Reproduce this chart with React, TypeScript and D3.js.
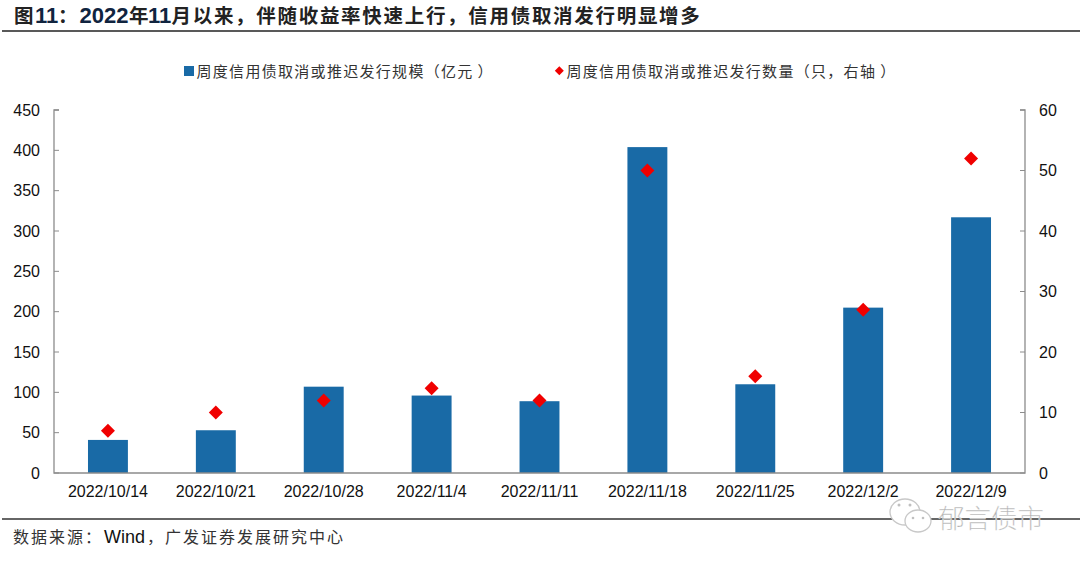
import React from "react";
import * as d3 from "d3";

const categories = ["2022/10/14","2022/10/21","2022/10/28","2022/11/4","2022/11/11","2022/11/18","2022/11/25","2022/12/2","2022/12/9"];
const scaleValues = [41,53,107,96,89,404,110,205,317];
const countValues = [7,10,12,14,12,50,16,27,52];
const leftTicks = [0,50,100,150,200,250,300,350,400,450];
const rightTicks = [0,10,20,30,40,50,60];
const titleParts: [string, boolean, number][] = [["图",false,14],["11",true,35],["：",false,58],["2022",true,79.5],["年",false,129],["11",true,148],["月以来，伴随收益率快速上行，信用债取消发行明显增多",false,171.5]];
const legendBar = "周度信用债取消或推迟发行规模（亿元";
const legendDot = "周度信用债取消或推迟发行数量（只，右轴";
const legendClose = "）";
const sourceParts: [string, boolean, number][] = [["数据来源：",false,13],["Wind",true,104],["，广发证券发展研究中心",false,147]];
const watermark = "郁言债市";

const cjk = "'Noto Sans CJK SC','Liberation Sans',sans-serif";
const latin = "'Liberation Sans',Arial,sans-serif";
const blue = "#196AA6";
const axisCol = "#8c8c8c";

export default function App() {
  const x = d3.scaleBand<string>().domain(categories).range([54,1025]).paddingInner(0.63).paddingOuter(0.315);
  const yL = d3.scaleLinear().domain([0,450]).range([473,110]);
  const yR = d3.scaleLinear().domain([0,60]).range([473,110]);
  const cx = (c: string) => (x(c) as number) + x.bandwidth()/2;
  const diamond = d3.symbol().type(d3.symbolDiamond2).size(125)() as string;
  const legendDiamond = d3.symbol().type(d3.symbolDiamond2).size(52)() as string;
  return (
    <svg width={1080} height={566} style={{position:"absolute",left:0,top:0,background:"#fff"}}>
      {titleParts.map(([t,b,px],i)=>(
        <text key={i} x={px} y={b?23:22.5} fontSize={b?22:19.5} fontWeight={700} letterSpacing={b?0:1.7} fill={b?"#10243f":"#222"} fontFamily={b?latin:cjk}>{t}</text>
      ))}
      <line x1={2} x2={1080} y1={31} y2={31} stroke="#222" strokeWidth={1.6}/>
      <rect x={184} y={66} width={10} height={10} fill={blue}/>
      <text x={196.5} y={76.5} fontSize={15} letterSpacing={1.3} fill="#333" fontFamily={cjk}>{legendBar}<tspan dx={4}>{legendClose}</tspan></text>
      <path d={legendDiamond} transform="translate(559.3,70.7)" fill="#f00000"/>
      <text x={566.5} y={76.5} fontSize={15} letterSpacing={1.3} fill="#333" fontFamily={cjk}>{legendDot}<tspan dx={4}>{legendClose}</tspan></text>

      {categories.map((c,i)=>(
        <rect key={c} x={x(c)} y={yL(scaleValues[i])} width={x.bandwidth()} height={473-yL(scaleValues[i])} fill={blue}/>
      ))}
      <path d={`M59,110 H54 V473 H1025 V110 H1020`} fill="none" stroke={axisCol} strokeWidth={1.3}/>
      {leftTicks.map(t=>(
        <g key={t}>
          <line x1={54} x2={59} y1={yL(t)} y2={yL(t)} stroke={axisCol}/>
          <text x={40} y={yL(t)+5.5} textAnchor="end" fontSize={16} fill="#111" fontFamily={latin}>{t}</text>
        </g>
      ))}
      {rightTicks.map(t=>(
        <g key={t}>
          <line x1={1020} x2={1025} y1={yR(t)} y2={yR(t)} stroke={axisCol}/>
          <text x={1039} y={yR(t)+5.5} fontSize={16} fill="#111" fontFamily={latin}>{t}</text>
        </g>
      ))}
      {categories.map((c,i)=>(
        <path key={c} d={diamond} transform={`translate(${cx(c)},${yR(countValues[i])})`} fill="#f00000"/>
      ))}
      {categories.map(c=>(
        <text key={c} x={cx(c)} y={497} textAnchor="middle" fontSize={16} fill="#111" fontFamily={latin}>{c}</text>
      ))}
      <line x1={2} x2={1080} y1={519} y2={519} stroke="#333" strokeWidth={1.6}/>
      {sourceParts.map(([t,b,px],i)=>(
        <text key={i} x={px} y={b?543:542.5} fontSize={b?18:16} letterSpacing={b?0:2} fill={b?"#111":"#333"} fontFamily={b?latin:cjk}>{t}</text>
      ))}
      <g fill="#fff" stroke="#c8c8c8" strokeWidth={1.3}>
        <ellipse cx={905} cy={512} rx={15} ry={13}/>
        <ellipse cx={918} cy={521} rx={13} ry={11}/>
      </g>
      <g fill="#c0c0c0">
        <circle cx={899} cy={505} r={1.5}/>
        <circle cx={910} cy={505} r={1.5}/>
        <circle cx={913} cy={518} r={1.3}/>
        <circle cx={923} cy={518} r={1.3}/>
      </g>
      <text x={938} y={528} fontSize={26.5} fill="#b0b0b0" fontWeight={300} stroke="#fff" strokeWidth={0.3} fontFamily={cjk}>{watermark}</text>
    </svg>
  );
}
